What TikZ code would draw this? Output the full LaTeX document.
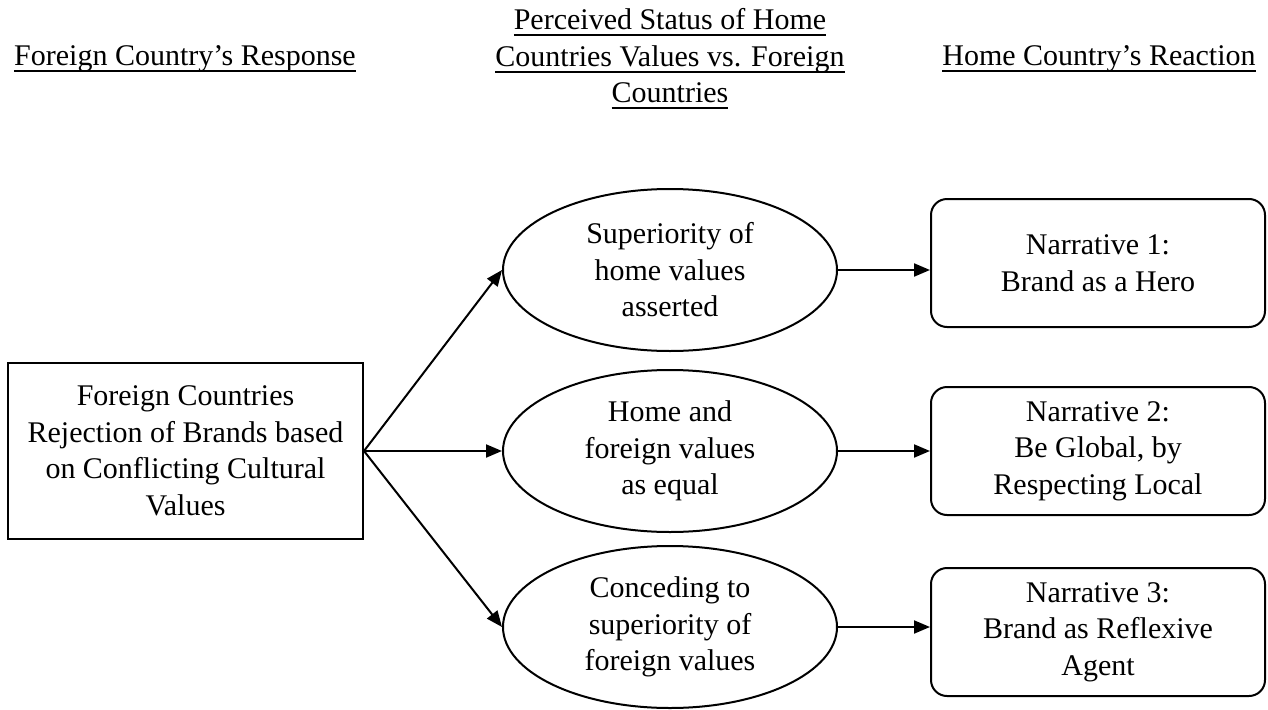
\documentclass[tikz,border=0pt]{standalone}
\usepackage{fontspec}
\setmainfont{Liberation Serif}
\usetikzlibrary{shapes.geometric,arrows.meta}
% heading text with a heavy rule just below the descenders
\newcommand{\hdline}[1]{\setbox0\hbox{#1}\rlap{\rule[-6.5pt]{\wd0}{2pt}}\box0}
\begin{document}
\begin{tikzpicture}[x=1pt,y=-1pt,
  every node/.style={font=\fontsize{30}{36.5}\selectfont, align=center, inner sep=0pt},
  header/.style={},
  srcbox/.style={draw, line width=2pt, minimum width=355pt, minimum height=176pt},
  stance/.style={draw, ellipse, line width=2pt, minimum width=334pt, minimum height=162pt},
  narrative/.style={draw, rounded corners=16pt, line width=2pt, minimum width=334pt, minimum height=128pt},
  link/.style={line width=2pt, -{Triangle[length=16pt,width=13pt]}}
]
\useasboundingbox (0,0) rectangle (1268,709);

% column headings
\node[header] (h1) at (185,59) {\hdline{Foreign Country’s Response}};
\node[header] (h2) at (670,59) {\hdline{Perceived Status of Home}\\\hdline{Countries Values vs. Foreign}\\\hdline{Countries}};
\node[header] (h3) at (1099,59) {\hdline{Home Country’s Reaction}};

% source of the rejection
\node[srcbox] (src) at (185.5,451) {Foreign Countries\\Rejection of Brands based\\on Conflicting Cultural\\Values};

% perceived status of values
\node[stance] (s1) at (670,270) {Superiority of\\home values\\asserted};
\node[stance] (s2) at (670,451) {Home and\\foreign values\\as equal};
\node[stance] (s3) at (670,627) {Conceding to\\superiority of\\foreign values};

% resulting narratives
\node[narrative] (n1) at (1098,263) {Narrative 1:\\Brand as a Hero};
\node[narrative] (n2) at (1098,451) {Narrative 2:\\Be Global, by\\Respecting Local};
\node[narrative] (n3) at (1098,632) {Narrative 3:\\Brand as Reflexive\\Agent};

% connectors
\draw[link] (src.east) -- (s1.west);
\draw[link] (src.east) -- (s2.west);
\draw[link] (src.east) -- (s3.west);
\draw[link] (s1.east) -- (s1.east -| n1.west);
\draw[link] (s2.east) -- (s2.east -| n2.west);
\draw[link] (s3.east) -- (s3.east -| n3.west);
\end{tikzpicture}
\end{document}
